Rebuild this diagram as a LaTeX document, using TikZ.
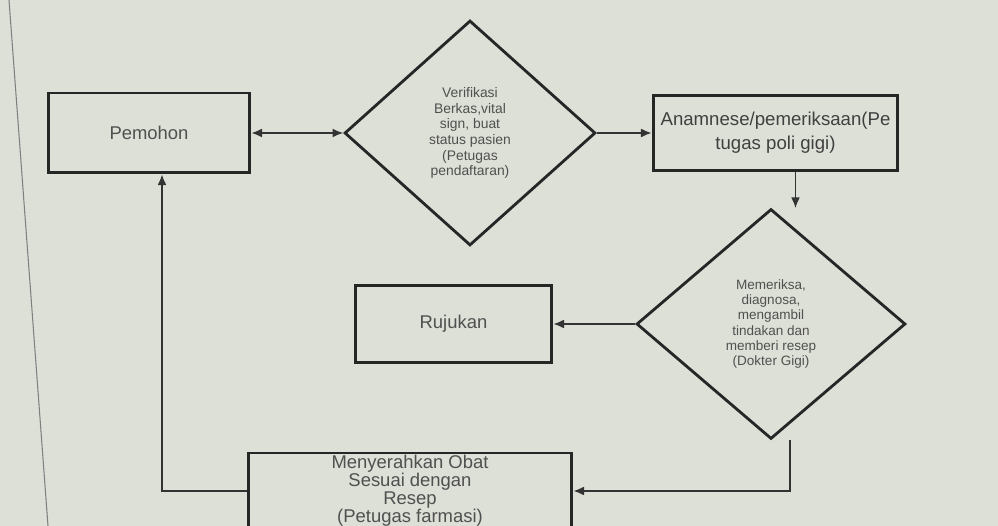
\documentclass[tikz,border=0pt]{standalone}
\usepackage{fontspec}
\setmainfont{Liberation Sans}
\usepackage{xcolor}
\usetikzlibrary{positioning, shapes, arrows.meta}

\definecolor{screen}{RGB}{221,224,215}
\definecolor{ink}{RGB}{80,80,80}

\begin{document}
\begin{tikzpicture}[
            x=0.02cm, y=-0.02cm,
            box/.style={rectangle, draw=black!85, line width=1.7pt, align=center,
                text=ink, inner sep=1pt, font=\fontsize{10.5}{10.2}\selectfont},
            decision/.style={diamond, draw=black!85, line width=1.6pt, align=center,
                text=ink, inner sep=0pt, font=\fontsize{7.9}{8.9}\selectfont},
            flow/.style={draw=black!80, line width=0.7pt, -{Latex[length=6pt, width=5pt]}},
            both/.style={draw=black!80, line width=0.7pt, {Latex[length=6pt, width=5pt]}-{Latex[length=6pt, width=5pt]}},
        ]
            \useasboundingbox (0,0) rectangle (998,526);
            \clip (0,0) rectangle (998,526);
            \fill[screen] (0,0) rectangle (998,526);
            \draw[gray, line width=0.6pt] (9,0) -- (48,526);

            \node[box, minimum width=4.04cm, minimum height=1.6cm] (pemohon) at (149,133) {Pemohon};
            \node[decision, minimum width=5.02cm, minimum height=4.5cm] (verif) at (470,133)
                {Verifikasi\\Berkas,vital\\sign, buat\\status pasien\\(Petugas\\pendaftaran)};
            \node[box, minimum width=4.9cm, minimum height=1.5cm, text=black!75,
                font=\fontsize{10.6}{13.6}\selectfont] (anamnese) at (775.5,133)
                {Anamnese/pemeriksaan(Pe\\tugas poli gigi)};
            \node[decision, minimum width=5.38cm, minimum height=4.6cm,
                font=\fontsize{7.7}{8.7}\selectfont] (periksa) at (771,324)
                {Memeriksa,\\diagnosa,\\mengambil\\tindakan dan\\memberi resep\\(Dokter Gigi)};
            \node[box, minimum width=3.94cm, minimum height=1.54cm] (rujukan) at (453.5,324) {Rujukan};
            \node[box, minimum width=6.48cm, minimum height=1.52cm] (obat) at (410,491)
                {Menyerahkan Obat\\Sesuai dengan\\Resep\\(Petugas farmasi)};

            % alur
            \draw[both] (pemohon.east) -- (verif.west);
            \draw[flow] (verif.east) -- (anamnese.west);
            \draw[flow] ([xshift=0.4cm]anamnese.south) -- ++(0,36);
            \draw[flow] (periksa.west) -- (rujukan.east);
            \draw[flow] ([xshift=0.38cm]periksa.south) |- (obat.east);
            \draw[flow] (obat.west) -| ([xshift=0.26cm]pemohon.south);
        \end{tikzpicture}
\end{document}
